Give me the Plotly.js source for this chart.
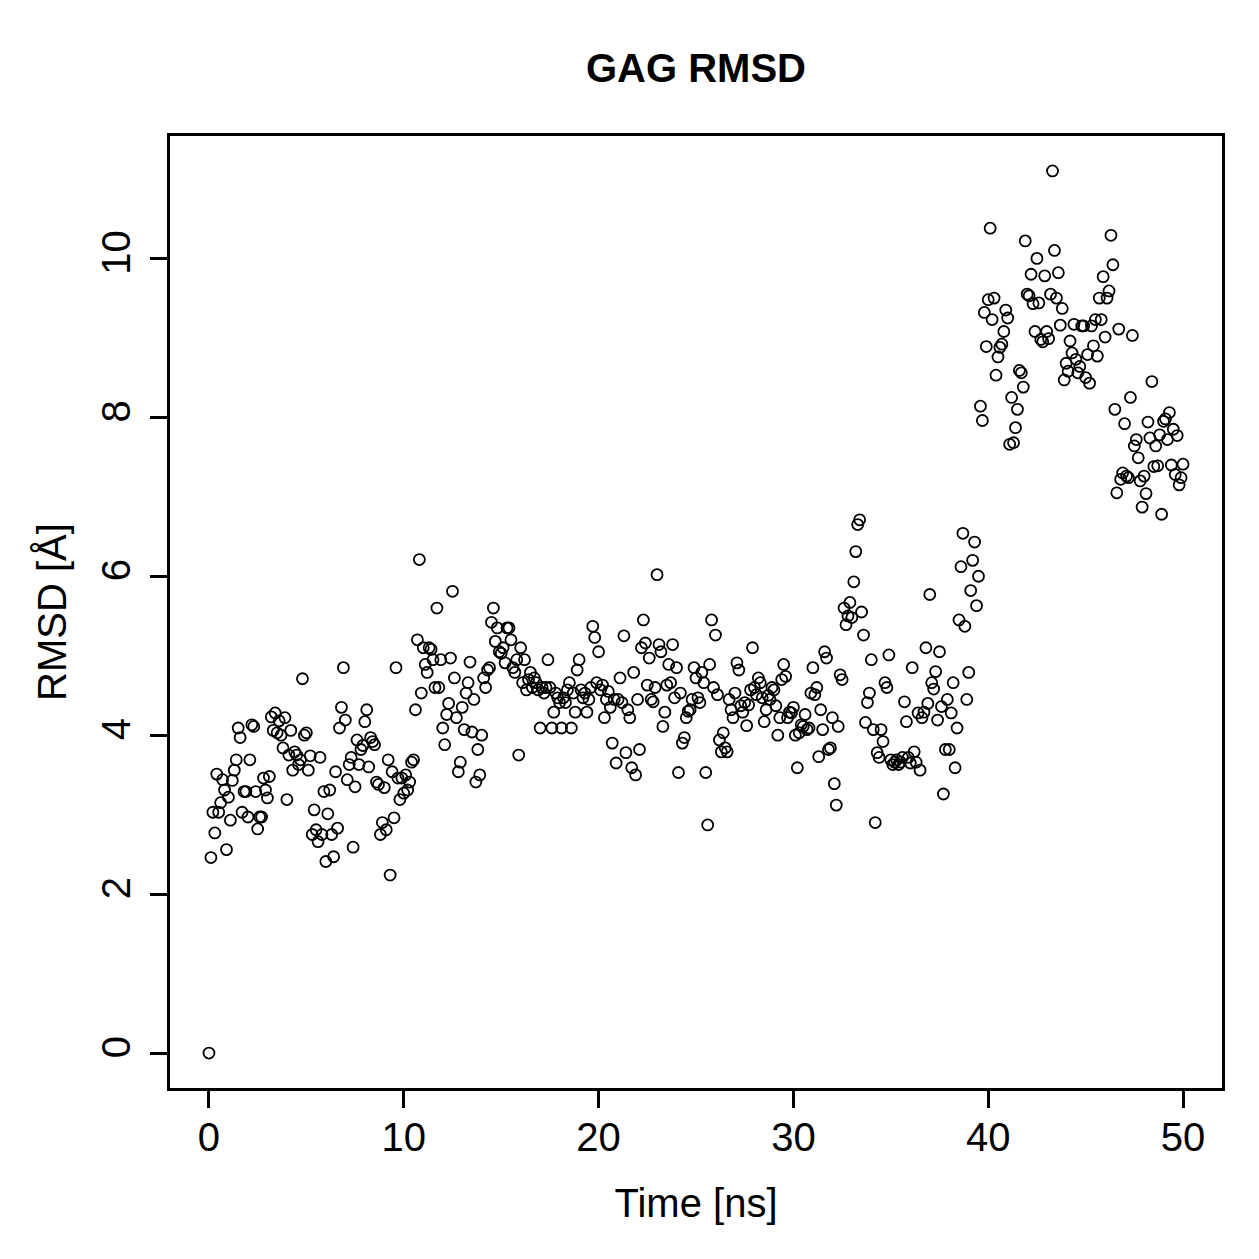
<!DOCTYPE html>
<html>
<head>
<meta charset="utf-8">
<script src="https://cdn.plot.ly/plotly-3.0.1.min.js"></script>
<style>html,body{margin:0;padding:0;background:#fff;}#chart{width:1259px;height:1259px;}</style>
</head>
<body>
<div id="chart"></div>
<script>
// Time axis (ns)
const time = [
0,0.1,0.2,0.3,0.4,0.5,0.6,0.7,0.8,0.9,
1,1.1,1.2,1.3,1.4,1.5,1.6,1.7,1.8,1.9,
2,2.1,2.2,2.3,2.4,2.5,2.6,2.7,2.8,2.9,
3,3.1,3.2,3.3,3.4,3.5,3.6,3.7,3.8,3.9,
4,4.1,4.2,4.3,4.4,4.5,4.6,4.7,4.8,4.9,
5,5.1,5.2,5.3,5.4,5.5,5.6,5.7,5.8,5.9,
6,6.1,6.2,6.3,6.4,6.5,6.6,6.7,6.8,6.9,
7,7.1,7.2,7.3,7.4,7.5,7.6,7.7,7.8,7.9,
8,8.1,8.2,8.3,8.4,8.5,8.6,8.7,8.8,8.9,
9,9.1,9.2,9.3,9.4,9.5,9.6,9.7,9.8,9.9,
10,10.1,10.2,10.3,10.4,10.5,10.6,10.7,10.8,10.9,
11,11.1,11.2,11.3,11.4,11.5,11.6,11.7,11.8,11.9,
12,12.1,12.2,12.3,12.4,12.5,12.6,12.7,12.8,12.9,
13,13.1,13.2,13.3,13.4,13.5,13.6,13.7,13.8,13.9,
14,14.1,14.2,14.3,14.4,14.5,14.6,14.7,14.8,14.9,
15,15.1,15.2,15.3,15.4,15.5,15.6,15.7,15.8,15.9,
16,16.1,16.2,16.3,16.4,16.5,16.6,16.7,16.8,16.9,
17,17.1,17.2,17.3,17.4,17.5,17.6,17.7,17.8,17.9,
18,18.1,18.2,18.3,18.4,18.5,18.6,18.7,18.8,18.9,
19,19.1,19.2,19.3,19.4,19.5,19.6,19.7,19.8,19.9,
20,20.1,20.2,20.3,20.4,20.5,20.6,20.7,20.8,20.9,
21,21.1,21.2,21.3,21.4,21.5,21.6,21.7,21.8,21.9,
22,22.1,22.2,22.3,22.4,22.5,22.6,22.7,22.8,22.9,
23,23.1,23.2,23.3,23.4,23.5,23.6,23.7,23.8,23.9,
24,24.1,24.2,24.3,24.4,24.5,24.6,24.7,24.8,24.9,
25,25.1,25.2,25.3,25.4,25.5,25.6,25.7,25.8,25.9,
26,26.1,26.2,26.3,26.4,26.5,26.6,26.7,26.8,26.9,
27,27.1,27.2,27.3,27.4,27.5,27.6,27.7,27.8,27.9,
28,28.1,28.2,28.3,28.4,28.5,28.6,28.7,28.8,28.9,
29,29.1,29.2,29.3,29.4,29.5,29.6,29.7,29.8,29.9,
30,30.1,30.2,30.3,30.4,30.5,30.6,30.7,30.8,30.9,
31,31.1,31.2,31.3,31.4,31.5,31.6,31.7,31.8,31.9,
32,32.1,32.2,32.3,32.4,32.5,32.6,32.7,32.8,32.9,
33,33.1,33.2,33.3,33.4,33.5,33.6,33.7,33.8,33.9,
34,34.1,34.2,34.3,34.4,34.5,34.6,34.7,34.8,34.9,
35,35.1,35.2,35.3,35.4,35.5,35.6,35.7,35.8,35.9,
36,36.1,36.2,36.3,36.4,36.5,36.6,36.7,36.8,36.9,
37,37.1,37.2,37.3,37.4,37.5,37.6,37.7,37.8,37.9,
38,38.1,38.2,38.3,38.4,38.5,38.6,38.7,38.8,38.9,
39,39.1,39.2,39.3,39.4,39.5,39.6,39.7,39.8,39.9,
40,40.1,40.2,40.3,40.4,40.5,40.6,40.7,40.8,40.9,
41,41.1,41.2,41.3,41.4,41.5,41.6,41.7,41.8,41.9,
42,42.1,42.2,42.3,42.4,42.5,42.6,42.7,42.8,42.9,
43,43.1,43.2,43.3,43.4,43.5,43.6,43.7,43.8,43.9,
44,44.1,44.2,44.3,44.4,44.5,44.6,44.7,44.8,44.9,
45,45.1,45.2,45.3,45.4,45.5,45.6,45.7,45.8,45.9,
46,46.1,46.2,46.3,46.4,46.5,46.6,46.7,46.8,46.9,
47,47.1,47.2,47.3,47.4,47.5,47.6,47.7,47.8,47.9,
48,48.1,48.2,48.3,48.4,48.5,48.6,48.7,48.8,48.9,
49,49.1,49.2,49.3,49.4,49.5,49.6,49.7,49.8,49.9,
50
];

// RMSD values (Å)
const rmsd = [
0.00,
2.46,3.03,2.77,3.51,3.03,3.15,3.44,3.31,2.56,3.22,
2.93,3.43,3.56,3.69,4.09,3.97,3.03,3.29,3.29,2.97,
3.69,4.13,4.11,3.29,2.82,2.97,2.97,3.46,3.31,3.21,
3.48,4.23,4.06,4.28,4.03,4.18,4.00,3.84,4.22,3.19,
3.75,
4.06,3.56,3.79,3.75,3.63,3.69,4.71,4.00,4.03,3.56,
3.74,2.75,3.06,2.81,2.66,3.72,2.75,3.29,2.41,3.01,
3.31,2.75,2.47,3.54,2.83,4.09,4.35,4.85,4.19,3.44,
3.63,3.72,2.59,3.35,3.94,3.63,3.82,3.87,4.17,4.32,
3.60,
3.97,3.92,3.88,3.41,3.38,2.75,2.90,3.34,2.81,3.69,
2.24,3.54,2.96,4.85,3.46,3.19,3.46,3.27,3.50,3.31,
3.41,3.66,3.69,4.32,5.20,6.21,4.53,5.10,4.89,4.79,
5.10,5.08,4.95,4.60,5.60,4.60,4.95,4.09,3.88,4.26,
4.40,
4.97,5.81,4.72,4.22,3.54,3.66,4.35,4.07,4.53,4.66,
4.92,4.04,4.45,3.41,3.82,3.50,4.00,4.72,4.60,4.82,
4.85,5.42,5.60,5.18,5.35,5.05,5.03,5.10,4.91,5.35,
5.35,5.20,4.85,4.79,4.95,3.75,5.10,4.66,4.95,4.57,
4.70,
4.79,4.60,4.72,4.66,4.57,4.09,4.60,4.53,4.60,4.95,
4.60,4.09,4.29,4.53,4.47,4.41,4.09,4.47,4.41,4.57,
4.66,4.09,4.53,4.29,4.82,4.95,4.57,4.47,4.53,4.29,
4.45,4.60,5.37,5.23,4.66,5.05,4.57,4.63,4.22,4.45,
4.55,
4.35,3.90,4.45,3.65,4.45,4.72,4.41,5.25,3.78,4.32,
4.22,3.59,4.79,3.50,4.45,3.82,5.10,5.45,5.16,4.63,
4.97,4.45,4.42,4.60,6.02,5.14,5.05,4.11,4.29,4.63,
4.89,4.66,5.14,4.47,4.85,3.53,4.53,3.90,3.97,4.22,
4.30,
4.32,4.45,4.85,4.72,4.47,4.41,4.79,4.66,3.53,2.87,
4.89,5.45,4.60,5.26,4.51,3.94,3.79,4.03,3.84,3.79,
4.45,4.32,4.22,4.53,4.91,4.82,4.37,4.29,4.41,4.12,
4.38,4.57,5.10,4.60,4.51,4.72,4.66,4.47,4.17,4.32,
4.50,
4.45,4.60,4.57,4.37,4.00,4.22,4.70,4.89,4.74,4.22,
4.29,4.28,4.35,4.00,3.59,4.03,4.13,4.11,4.26,4.07,
4.09,4.53,4.85,4.51,4.60,3.73,4.32,4.07,5.05,4.97,
3.82,3.84,4.22,3.39,3.12,4.11,4.76,4.70,5.60,5.39,
5.50,
5.67,5.48,5.93,6.31,6.65,6.71,5.55,5.26,4.16,4.41,
4.53,4.95,4.07,2.90,3.78,3.72,4.07,3.92,4.66,4.60,
5.01,3.69,3.63,3.66,3.69,3.63,3.66,3.72,4.42,4.17,
3.72,3.65,4.85,3.79,3.66,4.28,3.56,4.22,4.29,5.10,
4.40,
5.77,4.66,4.58,4.80,4.19,5.05,4.36,3.26,3.82,4.45,
3.82,4.28,4.66,3.59,4.09,5.45,6.12,6.54,5.37,4.45,
4.79,5.82,6.20,6.43,5.63,6.00,
8.14,7.96,9.32,8.89,9.48,10.38,9.23,9.50,8.53,8.76,
8.88,8.92,9.08,9.35,9.25,7.66,8.25,7.68,7.87,8.10,
8.59,8.56,8.38,10.22,9.55,9.53,9.80,9.43,9.08,10.00,
9.44,8.98,8.95,9.78,9.08,8.99,9.55,11.10,10.10,9.50,
9.82,9.16,9.37,8.47,8.68,8.58,8.96,8.81,9.17,8.73,
8.56,8.64,9.15,9.15,8.50,8.79,8.43,9.15,8.90,9.23,
8.77,9.50,9.23,9.77,9.01,9.50,9.59,10.29,9.92,8.10,
7.05,9.11,7.22,7.30,7.92,7.26,7.24,8.25,9.03,7.64,
7.72,7.49,7.20,6.87,7.26,7.04,7.94,7.74,8.45,7.38,
7.64,7.39,7.78,6.78,7.95,7.98,7.72,8.06,7.40,7.85,
7.28,7.77,7.15,7.24,7.41
];

const xTicks = [0, 10, 20, 30, 40, 50];
const yTicks = [0, 2, 4, 6, 8, 10];
const chartTitle = 'GAG RMSD';
const xTitle = 'Time [ns]';
const yTitle = 'RMSD [Å]';

const FONT = '"Liberation Sans", Arial, Helvetica, sans-serif';

const trace = {
  type: 'scatter',
  mode: 'markers',
  x: time,
  y: rmsd,
  marker: {symbol: 'circle-open', size: 11, color: '#000', line: {width: 1.8, color: '#000'}},
  hoverinfo: 'x+y'
};

const axisCommon = {
  showgrid: false,
  zeroline: false,
  showline: true,
  mirror: true,
  linecolor: '#000',
  linewidth: 3,
  ticks: 'outside',
  ticklen: 17,
  tickwidth: 3,
  tickcolor: '#000',
  tickfont: {family: FONT, size: 40, color: '#000'},
  automargin: false
};

const layout = {
  width: 1259,
  height: 1259,
  paper_bgcolor: '#fff',
  plot_bgcolor: '#fff',
  showlegend: false,
  margin: {l: 170, r: 37, t: 136, b: 171},
  font: {family: FONT, color: '#000'},
  title: {
    text: '<b>' + chartTitle + '</b>',
    font: {family: FONT, size: 40, color: '#000'},
    x: 0.5, xref: 'paper', xanchor: 'center',
    y: 0.946, yref: 'container', yanchor: 'middle'
  },
  xaxis: Object.assign({}, axisCommon, {
    range: [-2, 52],
    tickmode: 'array',
    tickvals: xTicks,
    ticktext: xTicks.map(String),
    ticklabelstandoff: -5,
    title: {text: xTitle, font: {family: FONT, size: 40, color: '#000'}, standoff: 31}
  }),
  yaxis: Object.assign({}, axisCommon, {
    range: [-0.44, 11.54],
    tickmode: 'array',
    tickvals: yTicks,
    ticktext: yTicks.map(String),
    tickangle: -90,
    ticklabelstandoff: 4,
    title: {text: yTitle, font: {family: FONT, size: 40, color: '#000'}, standoff: 16}
  })
};

Plotly.newPlot('chart', [trace], layout, {displayModeBar: false, staticPlot: true});
</script>
</body>
</html>
